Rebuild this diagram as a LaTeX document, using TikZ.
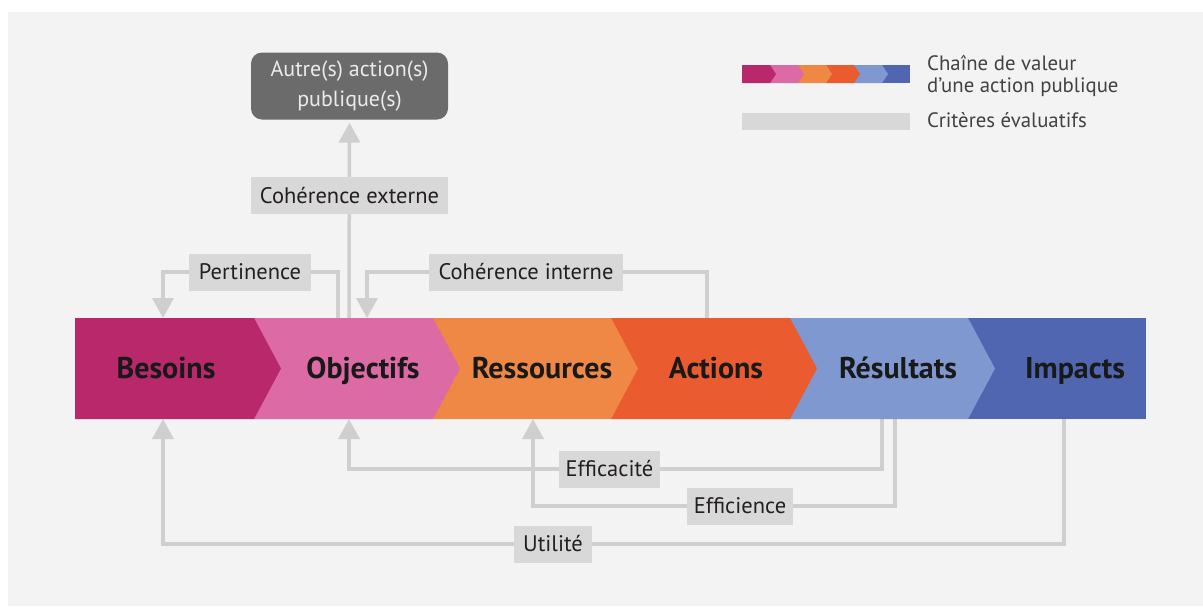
\documentclass[tikz,border=0pt]{standalone}
\usepackage{fontspec}
\setmainfont{PT Sans}
\usetikzlibrary{arrows.meta}
\definecolor{panel}{HTML}{F3F3F3}
\definecolor{cB}{HTML}{B8286B}
\definecolor{cO}{HTML}{DC6AA5}
\definecolor{cR}{HTML}{F08845}
\definecolor{cA}{HTML}{EA5B30}
\definecolor{cRe}{HTML}{7F98D0}
\definecolor{cI}{HTML}{5066B0}
\definecolor{critbox}{HTML}{D9D8D8}
\definecolor{critline}{HTML}{CFCFCF}
\definecolor{darkbox}{HTML}{6B6B6B}
\definecolor{txt}{HTML}{231F20}
\pgfdeclarelayer{back}
\pgfdeclarelayer{lines}
\pgfsetlayers{back,lines,main}
\tikzset{
  crit/.style={fill=critbox, text=txt, font=\fontsize{22.5}{26}\selectfont, minimum height=37pt, inner sep=0pt},
  conn/.style={draw=critline, line width=3.5pt, line join=miter},
  tipped/.style={conn, -{Triangle[width=21pt,length=20pt]}},
  stage/.style={font=\fontsize{30}{34}\selectfont\bfseries, text=black!90, inner sep=0pt, anchor=base},
  legtext/.style={font=\fontsize{20.8}{24}\selectfont, text=txt!85, inner sep=0pt, anchor=base west}
}
\begin{document}
\begin{tikzpicture}[x=1pt,y={(0pt,-1pt)}]
\useasboundingbox (0,0) rectangle (1203,606);
\begin{pgfonlayer}{back}
\fill[white] (0,0) rectangle (1203,606);
\fill[panel] (8,12) rectangle (1203,606);
\end{pgfonlayer}

% value chain band, drawn right to left so each tip overlaps the next segment
\fill[cI]  (968,318) rectangle (1146,419);
\fill[cRe] (790,318) -- (968,318) -- (995,368.5) -- (968,419) -- (790,419) -- cycle;
\fill[cA]  (611,318) -- (790,318) -- (817,368.5) -- (790,419) -- (611,419) -- cycle;
\fill[cR]  (433,318) -- (611,318) -- (638,368.5) -- (611,419) -- (433,419) -- cycle;
\fill[cO]  (254,318) -- (433,318) -- (460,368.5) -- (433,419) -- (254,419) -- cycle;
\fill[cB]  (75,318)  -- (254,318) -- (281,368.5) -- (254,419) -- (75,419)  -- cycle;

\node[stage] (besoins)    at (166,378) {Besoins};
\node[stage] (objectifs)  at (363,378) {Objectifs};
\node[stage] (ressources) at (542,378) {Ressources};
\node[stage] (actions)    at (716,378) {Actions};
\node[stage] (resultats)  at (898,378) {Résultats};
\node[stage] (impacts)    at (1075,378) {Impacts};

% connection points on the band
\coordinate (besT) at (163,318);
\coordinate (besB) at (163,419);
\coordinate (objTa) at (338,318);
\coordinate (objTb) at (349,318);
\coordinate (objTc) at (367,318);
\coordinate (objB) at (349,419);
\coordinate (resB) at (533,419);
\coordinate (actT) at (707,318);
\coordinate (rslB1) at (882,419);
\coordinate (rslB2) at (895,419);
\coordinate (impB) at (1064,419);

% boxes
\node[fill=darkbox, rounded corners=11pt, minimum width=197pt, minimum height=67pt, inner sep=0pt,
      text=white!92!black, align=center, font=\fontsize{22}{30}\selectfont] (autre) at (349.5,86)
      {Autre(s) action(s)\\publique(s)};
\node[crit, minimum width=197pt] (ext)  at (349.5,195.5) {Cohérence externe};
\node[crit, minimum width=122pt] (pert) at (250,272) {Pertinence};
\node[crit, minimum width=194pt] (cint) at (526,272) {Cohérence interne};
\node[crit, minimum width=101pt] (effic) at (609.5,469) {Efficacité};
\node[crit, minimum width=106pt] (effie) at (740,506) {Efficience};
\node[crit, minimum width=78pt]  (util) at (553,544) {Utilité};

% connectors
\begin{pgfonlayer}{lines}
\draw[tipped, shorten >=3pt] (objTb) -- (autre.south);
\draw[tipped] (objTa) |- (pert.center) -| (besT);
\draw[tipped] (actT) |- (cint.center) -| (objTc);
\draw[tipped] (rslB1) |- (effic.center) -| (objB);
\draw[tipped] (rslB2) |- (effie.center) -| (resB);
\draw[tipped] (impB) |- (util.center) -| (besB);
\end{pgfonlayer}

% legend
\fill[cI]  (882,65) rectangle (910,83);
\fill[cRe] (854,65) -- (882,65) -- (888,74) -- (882,83) -- (854,83) -- cycle;
\fill[cA]  (826,65) -- (854,65) -- (860,74) -- (854,83) -- (826,83) -- cycle;
\fill[cR]  (798,65) -- (826,65) -- (832,74) -- (826,83) -- (798,83) -- cycle;
\fill[cO]  (770,65) -- (798,65) -- (804,74) -- (798,83) -- (770,83) -- cycle;
\fill[cB]  (742,65) -- (770,65) -- (776,74) -- (770,83) -- (742,83) -- cycle;
\fill[critbox] (742,113) rectangle (910,130);
\node[legtext] (leg1) at (927,70) {Chaîne de valeur};
\node[legtext] (leg2) at (927,92) {d’une action publique};
\node[legtext] (leg3) at (927,127) {Critères évaluatifs};
\end{tikzpicture}
\end{document}
